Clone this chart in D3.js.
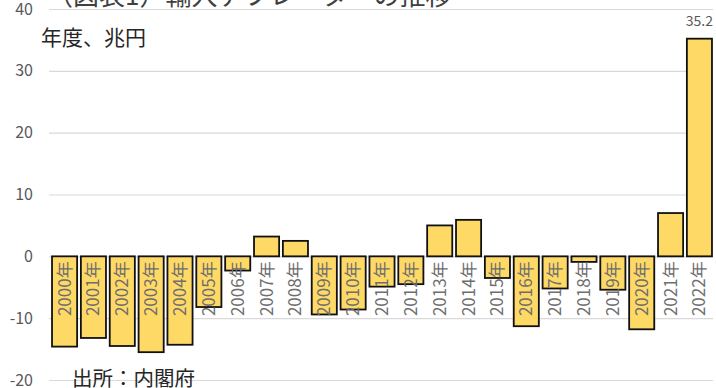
<!DOCTYPE html>
<html>
<head>
<meta charset="utf-8">
<script src="https://cdn.jsdelivr.net/npm/d3@7"></script>
<style>
body { margin: 0; background: #fff; }
svg { display: block; font-family: "Noto Sans CJK JP", "Noto Sans", sans-serif; }
</style>
</head>
<body>
<div id="chartDiv"></div>
<script>
var years = ["2000", "2001", "2002", "2003", "2004", "2005", "2006", "2007", "2008", "2009", "2010", "2011",
	"2012", "2013", "2014", "2015", "2016", "2017", "2018", "2019", "2020", "2021", "2022"];
var values = [-14.6, -13.2, -14.5, -15.5, -14.3, -8.2, -2.3, 3.2, 2.5, -9.4, -8.6, -4.9,
	-4.5, 5.0, 5.9, -3.5, -11.3, -5.2, -0.9, -5.4, -11.8, 7.0, 35.2];
var yTicks = [-20, -10, 0, 10, 20, 30, 40];

var width = 716, height = 388;

var svg = d3.select("#chartDiv").append("svg")
	.attr("width", width).attr("height", height);

var x = d3.scaleBand().domain(years).range([50, 714]).paddingInner(0.13).paddingOuter(0.07);
var y = d3.scaleLinear().domain([-20, 40]).range([380, 9]);

// gridlines
svg.append("g").selectAll("line").data(yTicks).join("line")
	.attr("x1", 49).attr("x2", 713)
	.attr("y1", function(d) { return y(d) + 0.5; })
	.attr("y2", function(d) { return y(d) + 0.5; })
	.attr("stroke", "#d9d9d9").attr("stroke-width", 1.2);

// y axis labels
svg.append("g").selectAll("text").data(yTicks).join("text")
	.attr("x", 33).attr("y", function(d) { return y(d); })
	.attr("dy", "0.35em")
	.attr("text-anchor", "end")
	.attr("font-size", 16).attr("fill", "#595959")
	.text(function(d) { return d; });

// bars
svg.append("g").selectAll("rect").data(values).join("rect")
	.attr("x", function(d, i) { return x(years[i]); })
	.attr("width", x.bandwidth())
	.attr("y", function(d) { return y(Math.max(0, d)); })
	.attr("height", function(d) { return Math.abs(y(d) - y(0)); })
	.attr("fill", "#ffd966")
	.attr("stroke", "#111").attr("stroke-width", 1.8);

// category labels (rotated)
svg.append("g").selectAll("text").data(years).join("text")
	.attr("transform", function(d) {
		return "translate(" + (x(d) + x.bandwidth() / 2) + "," + (y(0) + 5) + ") rotate(-90)";
	})
	.attr("text-anchor", "end")
	.attr("dy", "0.35em")
	.attr("font-size", 17).attr("fill", "#6e6e6e")
	.text(function(d) { return d + "年"; });

// value label for last bar
svg.append("text")
	.attr("x", x("2022") + x.bandwidth() / 2)
	.attr("y", y(35.2) - 13)
	.attr("text-anchor", "middle")
	.attr("font-size", 14).attr("fill", "#595959")
	.text("35.2");

// title (clipped at top, as in the original)
svg.append("text")
	.attr("x", 47).attr("y", 5)
	.attr("font-size", 26).attr("fill", "#404040")
	.text("（図表1）輸入デフレーターの推移");

svg.append("text")
	.attr("x", 41).attr("y", 45)
	.attr("font-size", 21).attr("fill", "#262626")
	.text("年度、兆円");

svg.append("text")
	.attr("x", 72).attr("y", 386)
	.attr("font-size", 20.5).attr("fill", "#262626")
	.text("出所：内閣府");
</script>
</body>
</html>
